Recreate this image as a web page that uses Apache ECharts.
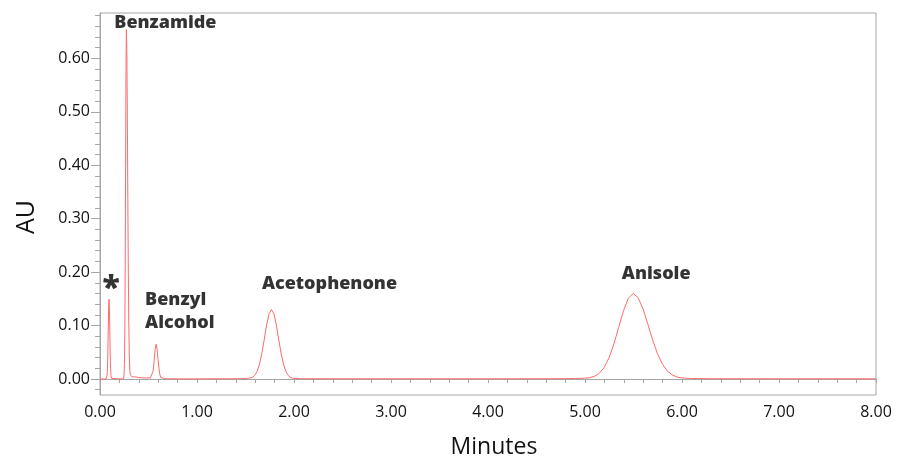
<!DOCTYPE html>
<html>
<head>
<meta charset="utf-8">
<title>Chromatogram</title>
<script src="https://cdn.jsdelivr.net/npm/echarts@6/dist/echarts.min.js"></script>
<style>
  html, body { margin: 0; padding: 0; background: #ffffff; }
  #chart { width: 897px; height: 461px; }
</style>
</head>
<body>
<div id="chart"></div>
<script>
// Detector trace: retention time (min) and absorbance (AU)
const minutes = [
  0.000, 0.060, 0.070, 0.073, 0.077, 0.081, 0.085, 0.089, 0.093, 0.097, 0.101, 0.105, 0.109, 0.113, 0.118, 0.130,
  0.220, 0.242, 0.248, 0.252, 0.256, 0.260, 0.264, 0.268, 0.272, 0.277, 0.282, 0.287, 0.292, 0.297, 0.302, 0.307, 0.312, 0.320, 0.330, 0.350, 0.365, 0.380, 0.420, 0.480,
  0.520, 0.530, 0.538, 0.548, 0.558, 0.568, 0.578, 0.588, 0.598, 0.608, 0.618, 0.628, 0.640, 0.680, 0.800, 1.000, 1.300,
  1.450, 1.520, 1.568, 1.593, 1.618, 1.643, 1.668, 1.693, 1.718, 1.743, 1.768, 1.793, 1.818, 1.843, 1.868, 1.893, 1.918, 1.943, 1.968, 2.000, 2.080, 2.400,
  3.000, 4.000, 4.600, 4.800, 4.900, 4.997, 5.047, 5.097, 5.147, 5.197, 5.247, 5.297, 5.347, 5.397, 5.447, 5.497,
  5.547, 5.597, 5.647, 5.697, 5.747, 5.797, 5.847, 5.897, 5.947, 5.997, 6.097, 6.300, 7.000, 8.000
];
const au = [
  0.0000, 0.0000, 0.0010, 0.0066, 0.0201, 0.0484, 0.0904, 0.1310, 0.1490, 0.1310, 0.0904, 0.0484, 0.0201, 0.0066, 0.0011, 0.0000,
  0.0000, 0.0005, 0.0073, 0.0288, 0.0885, 0.2120, 0.3970, 0.5770, 0.6540, 0.6070, 0.4870, 0.3360, 0.2000, 0.1030, 0.0460, 0.0180, 0.0080, 0.0055, 0.0040, 0.0030, 0.0038, 0.0040, 0.0022, 0.0020,
  0.0020, 0.0035, 0.0055, 0.0150, 0.0335, 0.0555, 0.0650, 0.0566, 0.0375, 0.0190, 0.0075, 0.0025, 0.0008, 0.0003, 0.0002, 0.0002, 0.0003,
  0.0006, 0.0010, 0.0027, 0.0062, 0.0135, 0.0268, 0.0472, 0.0735, 0.1012, 0.1220, 0.1300, 0.1220, 0.1010, 0.0733, 0.0469, 0.0266, 0.0133, 0.0060, 0.0025, 0.0010, 0.0005, 0.0003,
  0.0003, 0.0003, 0.0005, 0.0006, 0.0010, 0.0014, 0.0024, 0.0050, 0.0106, 0.0214, 0.0394, 0.0651, 0.0964, 0.1277, 0.1512, 0.1600,
  0.1523, 0.1317, 0.1032, 0.0733, 0.0475, 0.0283, 0.0152, 0.0077, 0.0038, 0.0019, 0.0009, 0.0005, 0.0003, 0.0003
];

// Peak annotations, anchored at each peak apex
const peakNames = ['*', 'Benzamide', 'Benzyl\nAlcohol', 'Acetophenone', 'Anisole'];
const peakApexMinutes = [0.093, 0.272, 0.578, 1.768, 5.497];
const peakApexAU = [0.149, 0.654, 0.065, 0.130, 0.160];

// Axis ticks
const yMajorTicks = [0.00, 0.10, 0.20, 0.30, 0.40, 0.50, 0.60];
const yMinorTicks = [-0.02, 0.02, 0.04, 0.06, 0.08, 0.12, 0.14, 0.16, 0.18, 0.22, 0.24, 0.26, 0.28,
  0.32, 0.34, 0.36, 0.38, 0.42, 0.44, 0.46, 0.48, 0.52, 0.54, 0.56, 0.58, 0.62, 0.64, 0.66, 0.68];

// Label placement relative to the apex (pixels) and per-label styling
const labelStyles = [
  { offset: [2, -10], fontSize: 32, align: 'center' },
  { offset: [39, -7], fontSize: 18, align: 'center' },
  { offset: [-11, -33], fontSize: 18, align: 'left' },
  { offset: [58, -26], fontSize: 18, align: 'center' },
  { offset: [23, -20], fontSize: 18, align: 'center' }
];

const trace = minutes.map((t, i) => [t, au[i]]);
const labelPoints = peakNames.map((name, i) => ({
  name: name,
  value: [peakApexMinutes[i], peakApexAU[i]],
  label: {
    offset: labelStyles[i].offset,
    fontSize: labelStyles[i].fontSize,
    align: labelStyles[i].align
  }
}));

const axisGray = '#a6a6a6';
const textFont = '"Open Sans", "DejaVu Sans", sans-serif';

const chart = echarts.init(document.getElementById('chart'), null, { renderer: 'canvas' });
chart.setOption({
  animation: false,
  backgroundColor: '#ffffff',
  grid: {
    left: 100, right: 21, top: 13, bottom: 66,
    show: true, borderColor: axisGray, borderWidth: 1, backgroundColor: 'transparent'
  },
  xAxis: {
    type: 'value',
    min: 0, max: 8, interval: 1,
    axisLine: { show: true, lineStyle: { color: axisGray, width: 1 } },
    axisTick: { show: true, length: 4, lineStyle: { color: axisGray } },
    minorTick: { show: true, splitNumber: 5, length: 4, lineStyle: { color: axisGray } },
    splitLine: { show: false },
    axisLabel: {
      margin: 9, color: '#111111', fontFamily: textFont, fontSize: 16,
      formatter: v => v.toFixed(2)
    }
  },
  yAxis: [
    {
      type: 'value',
      position: 'left',
      min: -0.03, max: 0.685,
      axisLine: { show: true, lineStyle: { color: axisGray, width: 1 } },
      axisTick: { show: true, length: 9, customValues: yMajorTicks, lineStyle: { color: axisGray } },
      splitLine: { show: false },
      axisLabel: {
        margin: 10, color: '#111111', fontFamily: textFont, fontSize: 16,
        customValues: yMajorTicks,
        formatter: v => v.toFixed(2)
      }
    },
    {
      type: 'value',
      position: 'left',
      min: -0.03, max: 0.685,
      axisLine: { show: false },
      axisTick: { show: true, length: 5, customValues: yMinorTicks, lineStyle: { color: axisGray } },
      splitLine: { show: false },
      axisLabel: { show: false }
    }
  ],
  graphic: [
    {
      type: 'text', x: 27, y: 217, rotation: Math.PI / 2,
      style: {
        text: 'AU', fill: '#111111', font: '25px ' + textFont,
        align: 'center', verticalAlign: 'middle'
      }
    },
    {
      type: 'text', x: 494, y: 447,
      style: {
        text: 'Minutes', fill: '#111111', font: '23px ' + textFont,
        align: 'center', verticalAlign: 'middle'
      }
    }
  ],
  series: [
    {
      type: 'line',
      name: 'Absorbance',
      data: trace,
      showSymbol: false,
      symbol: 'none',
      lineStyle: { color: '#ff6b6b', width: 1 },
      silent: true
    },
    {
      type: 'scatter',
      name: 'Peaks',
      data: labelPoints,
      symbolSize: 0,
      silent: true,
      itemStyle: { color: 'transparent' },
      label: {
        show: true,
        position: 'inside',
        formatter: p => p.name,
        color: '#000000',
        textBorderWidth: 0,
        textBorderColor: 'transparent',
        fontFamily: textFont,
        fontWeight: 800,
        verticalAlign: 'middle',
        lineHeight: 23
      }
    }
  ]
});
</script>
</body>
</html>
